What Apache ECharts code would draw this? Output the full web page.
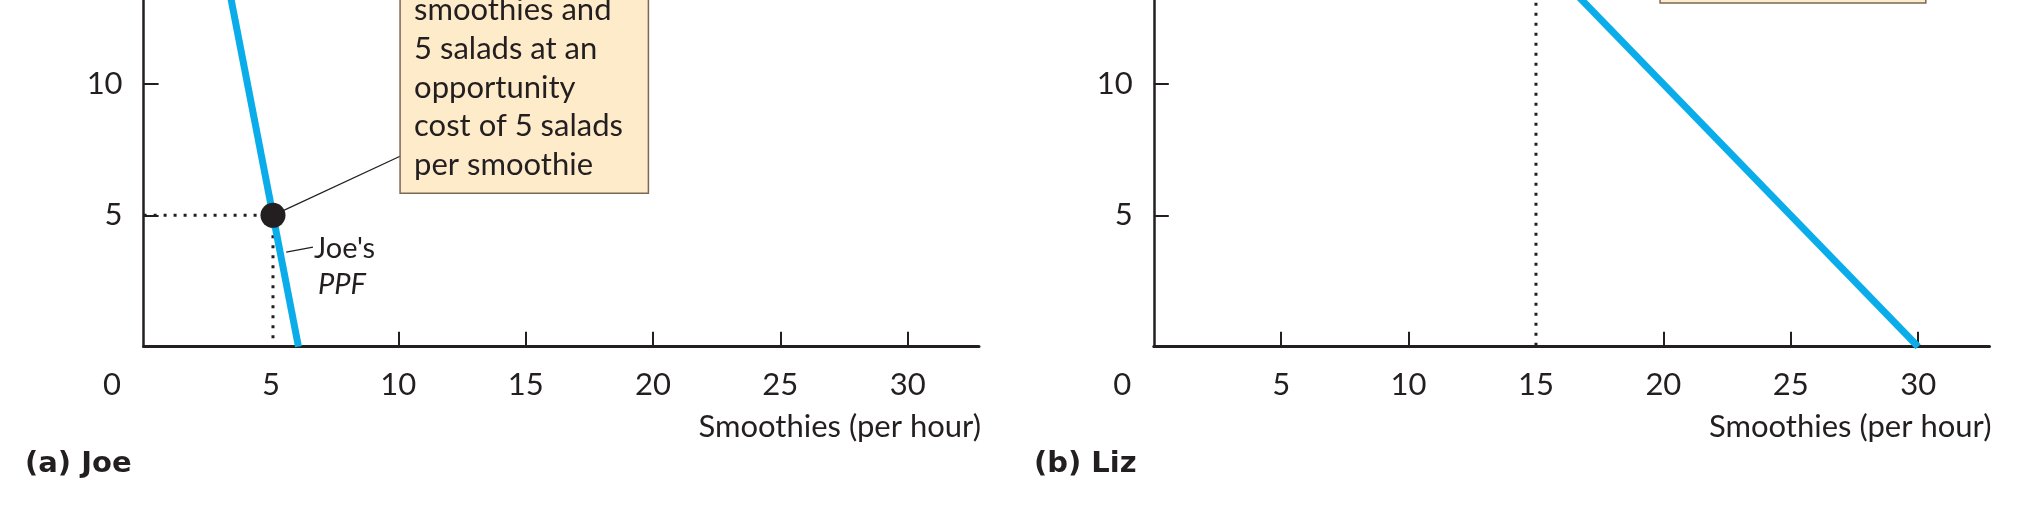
<!DOCTYPE html>
<html><head><meta charset="utf-8">
<script src="https://cdn.jsdelivr.net/npm/echarts@6/dist/echarts.min.js"></script>
<style>html,body{margin:0;padding:0;background:#fff}#c{width:2024px;height:518px}</style>
</head><body><div id="c"></div>
<script>
// ---- data ----
const xTicks = [0, 5, 10, 15, 20, 25, 30];
const yTicks = [5, 10];
const joePPF = [[0, 30.4], [6.08, 0]];
const joePoint = [[5.08, 5]];
const joeDotH = [[0, 5], [5.08, 5]];
const joeDotV = [[5.08, 5], [5.08, 0]];
const joeCallout = [[5.08, 5], [10.07, 7.25]];
const joePPFLeader = [[5.6, 3.6], [6.65, 3.79]];
const lizPPF = [[0, 30], [30, 0]];
const lizDotV = [[15, 15], [15, 0]];
const joeBoxLines = ['smoothies and', '5 salads at an', 'opportunity', 'cost of 5 salads', 'per smoothie'];
const joeBoxCorner = [[10.07, 5.84], [19.82, 20]];
const lizBoxCorner = [[19.87, 13.09], [30.3, 20]];
const xName = 'Smoothies (per hour)';
const panelTitles = ['(a) Joe', '(b) Liz'];

const INK = '#231f20', BLUE = '#0aadea', FONT = 'Lato';
const chart = echarts.init(document.getElementById('c'));

function xAxis(gi, hideTick) {
  return {
    type: 'value', gridIndex: gi, min: 0, max: 32.8, interval: 5,
    axisLine: { show: true, onZero: false, lineStyle: { color: INK, width: 3 } },
    axisTick: { show: true, inside: true, length: 15, lineStyle: { color: INK, width: 2 },
      customValues: xTicks.filter(v => v !== 0 && v !== hideTick) },
    splitLine: { show: false },
    axisLabel: { margin: 23, color: INK, fontFamily: FONT, fontSize: 31,
      customValues: xTicks,
      formatter: v => v === 0 ? '{z|0}' : String(v),
      rich: { z: { padding: [0, 63, 0, 0], fontFamily: FONT, fontSize: 31, color: INK } } },
    name: xName, nameLocation: 'end', nameGap: 2,
    nameTextStyle: { align: 'right', verticalAlign: 'top', padding: [65, 0, 0, 0],
      color: INK, fontFamily: FONT, fontSize: 31 }
  };
}
function yAxis(gi) {
  return {
    type: 'value', gridIndex: gi, min: 0, max: 13.2, interval: 5,
    axisLine: { show: true, onZero: false, lineStyle: { color: INK, width: 2.5 } },
    axisTick: { show: true, inside: true, length: 15, lineStyle: { color: INK, width: 2 }, customValues: yTicks },
    splitLine: { show: false },
    axisLabel: { margin: 21, color: INK, fontFamily: FONT, fontSize: 31, customValues: yTicks }
  };
}
const dotted = { color: INK, width: 3, type: [3, 7], cap: 'butt' };
function line(gi, data, style, z) {
  return { type: 'line', xAxisIndex: gi, yAxisIndex: gi, data, symbol: 'none', silent: true,
    lineStyle: style, z: z || 2, clip: true };
}

chart.setOption({
  animation: false,
  grid: [
    { left: 143.6, top: 0, width: 835.4, height: 346.7 },
    { left: 1153.8, top: 0, width: 835.7, height: 346.7 }
  ],
  xAxis: [xAxis(0, 5), xAxis(1, 15)],
  yAxis: [yAxis(0), yAxis(1)],
  title: panelTitles.map((t, i) => ({ text: t, left: i === 0 ? 25 : 1034, top: 450, padding: 0,
    textStyle: { fontFamily: 'DejaVu Sans', fontWeight: 'bold', fontSize: 29, color: INK } })),
  series: [
    line(0, joeDotH, dotted, 1),
    line(0, joeDotV, dotted, 1),
    line(0, joePPF, { color: BLUE, width: 7 }, 2),
    line(0, joeCallout, { color: INK, width: 1.3 }, 3),
    line(0, joePPFLeader, { color: INK, width: 1.3 }, 3),
    { type: 'scatter', xAxisIndex: 0, yAxisIndex: 0, data: joePoint, symbolSize: 25,
      itemStyle: { color: INK, opacity: 1 }, z: 5, silent: true },
    line(1, lizDotV, dotted, 1),
    line(1, lizPPF, { color: BLUE, width: 7 }, 2)
  ]
});

function px(gi, p) { return chart.convertToPixel({ xAxisIndex: gi, yAxisIndex: gi }, p); }
const jb0 = px(0, joeBoxCorner[0]), jb1 = px(0, joeBoxCorner[1]);
const lb0 = px(1, lizBoxCorner[0]), lb1 = px(1, lizBoxCorner[1]);
const pp = px(0, joePPFLeader[1]);
const boxStyle = { fill: '#fdebc9', stroke: '#7a6a55', lineWidth: 1.5 };
const g = [
  { type: 'rect', shape: { x: jb0[0], y: jb1[1], width: jb1[0] - jb0[0], height: jb0[1] - jb1[1] }, style: boxStyle, z: 10 },
  { type: 'rect', shape: { x: lb0[0], y: lb1[1], width: lb1[0] - lb0[0], height: lb0[1] - lb1[1] }, style: boxStyle, z: 10 }
];
joeBoxLines.forEach((t, i) => {
  g.push({ type: 'text', x: jb0[0] + 14, y: jb0[1] - 183 + i * 38.7, z: 11,
    style: { text: t, fill: INK, font: '31px Lato', verticalAlign: 'middle', align: 'left' } });
});
g.push({ type: 'text', x: pp[0] + 1, y: pp[1] + 1, z: 11,
  style: { text: "Joe's", fill: INK, font: '29px Lato', verticalAlign: 'middle', align: 'left' } });
g.push({ type: 'text', x: pp[0] + 5, y: pp[1] + 37, z: 11,
  style: { text: 'PPF', fill: INK, font: 'italic 29px Lato', verticalAlign: 'middle', align: 'left' } });
chart.setOption({ graphic: g });
</script></body></html>
